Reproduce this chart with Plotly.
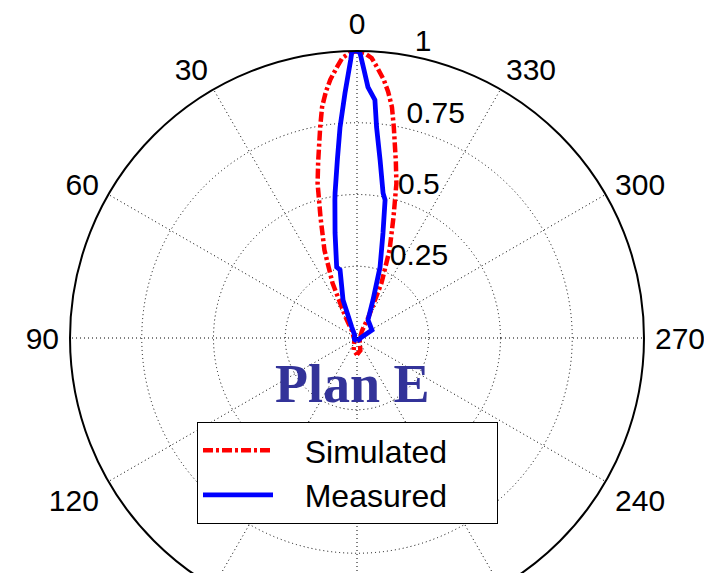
import plotly.graph_objects as go

# ---- data (angles in degrees, 0 at top, counter-clockwise positive) ----
sim_theta = [-180, -165, -150, -120, -90, -60, -45, -35, -28.7, -24.0, -20.3, -16.8,
             -14.3, -12.4, -9.9, -8.6, -7.2, -5.9, -4.2, -3.0, -1.5, 0,
             1.5, 3.0, 4.2, 5.9, 7.2, 8.6, 9.9, 12.4, 14.3, 16.8, 20.3, 24.0, 28.7, 35, 45,
             60, 90, 120, 150, 165, 180]
sim_r = [0.058, 0.045, 0.02, 0.01, 0.01, 0.015, 0.02, 0.03, 0.083, 0.21, 0.327, 0.44,
         0.556, 0.63, 0.746, 0.814, 0.865, 0.905, 0.947, 0.977, 0.993, 1.0,
         0.993, 0.977, 0.947, 0.905, 0.865, 0.814, 0.746, 0.63, 0.556, 0.44, 0.327, 0.21, 0.083, 0.03, 0.02,
         0.015, 0.01, 0.01, 0.02, 0.045, 0.058]

meas_theta = [-180, -120, -90, -62, -31.4, -22.8, -18.0, -13.9, -11.5, -10.2, -7.4,
              -5.3, -4.3, -2.5, -1.5, -0.6, 0, 1.0, 1.3, 2.8, 4.6, 6.3, 8.6, 9.1,
              11.8, 16.0, 14.0, 20.2, 25.7, 40, 90, 120, 180]
meas_r = [0.01, 0.01, 0.012, 0.059, 0.0735, 0.144, 0.26, 0.377, 0.491, 0.513, 0.625,
          0.738, 0.832, 0.875, 0.934, 0.993, 1.0, 1.0, 0.969, 0.855, 0.737, 0.624, 0.511, 0.487,
          0.374, 0.257, 0.244, 0.141, 0.0425, 0.012, 0.01, 0.01, 0.01]

angle_ticks = list(range(0, 360, 30))
# 150/180/210 fall below the visible window in the reference, so they are left blank
angle_labels = ["0", "30", "60", "90", "120", "", "", "", "240", "270", "300", "330"]
radial_ticks = [0.25, 0.5, 0.75, 1.0]
radial_labels = ["0.25", "0.5", "0.75", "1"]

W, H = 704, 625  # figure extends below the 573px window so the circle is cut off
cx, R = 357, 287
NB = "\u00a0"

fig = go.Figure()
fig.add_trace(go.Scatterpolar(
    r=sim_r, theta=sim_theta, mode="lines", name=NB * 3 + "Simulated" + NB * 5,
    line=dict(color="#FF0000", width=4.5, dash="10px,3px,3px,3px"),
    cliponaxis=False))
fig.add_trace(go.Scatterpolar(
    r=meas_r, theta=meas_theta, mode="lines", name=NB * 3 + "Measured" + NB * 5,
    line=dict(color="#0000FF", width=4.8),
    cliponaxis=False))

font_main = "Liberation Sans, Arial, sans-serif"
rad_angle = 83.3
grid_dash = "1px,3px"

fig.update_layout(
    width=W, height=H,
    margin=dict(l=0, r=0, t=0, b=0),
    paper_bgcolor="white",
    font=dict(family=font_main, color="black", size=30),
    polar=dict(
        domain=dict(x=[(cx - R) / W, (cx + R) / W], y=[0, 2 * R / H]),
        bgcolor="white",
        angularaxis=dict(
            rotation=90, direction="counterclockwise",
            tickmode="array", tickvals=angle_ticks, ticktext=angle_labels,
            showline=True, linecolor="black", linewidth=2,
            showgrid=True, gridcolor="#000000", griddash=grid_dash, gridwidth=1,
            ticks="outside", ticklen=4, tickcolor="rgba(0,0,0,0)",
            tickfont=dict(size=30, family=font_main, color="black"),
        ),
        radialaxis=dict(
            range=[0, 1], angle=rad_angle, side="clockwise", tickangle=rad_angle,
            tickmode="array", tickvals=radial_ticks,
            ticktext=[t + "<br>" + NB for t in radial_labels],
            showline=False, showgrid=True, gridcolor="#000000", griddash=grid_dash, gridwidth=1,
            ticks="outside", ticklen=3, tickcolor="rgba(0,0,0,0)",
            tickfont=dict(size=30, family=font_main, color="black"),
        ),
    ),
    showlegend=True,
    legend=dict(
        x=197 / W, y=1 - 422 / H, xanchor="left", yanchor="top",
        bgcolor="white", bordercolor="black", borderwidth=1,
        font=dict(size=32, family=font_main, color="black"),
        itemwidth=70, tracegroupgap=0,
    ),
    annotations=[dict(
        text="<b>Plan E</b>", x=352 / W, y=1 - 384 / H, xref="paper", yref="paper",
        xanchor="center", yanchor="middle", showarrow=False,
        font=dict(family="Liberation Serif, Times New Roman, serif", size=54, color="#333399"),
    )],
)

fig.write_html("out.html", config={"displayModeBar": False},
               post_script="document.body.style.margin='0';document.body.style.overflow='hidden';")
